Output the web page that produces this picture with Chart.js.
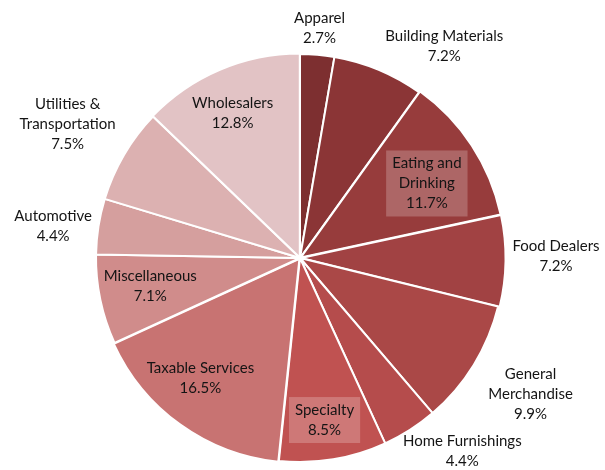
<!DOCTYPE html>
<html>
<head>
    <title>Sales Tax by Category</title>
    <script src="https://cdn.jsdelivr.net/npm/chart.js"></script>
    <style>
        body { margin: 0; background: #fff; }
        #wrap { width: 605px; height: 470px; }
    </style>
</head>
<body>
    <div id="wrap"><canvas id="myChart" width="605" height="470"></canvas></div>
    <script>
        const categories = ['Apparel', 'Building Materials', 'Eating and Drinking', 'Food Dealers',
            'General Merchandise', 'Home Furnishings', 'Specialty', 'Taxable Services',
            'Miscellaneous', 'Automotive', 'Utilities & Transportation', 'Wholesalers'];
        const shares = [2.7, 7.2, 11.7, 7.2, 9.9, 4.4, 8.5, 16.5, 7.1, 4.4, 7.5, 12.8];
        // how the label text is broken into lines
        const labelLines = [
            ['Apparel'], ['Building Materials'], ['Eating and', 'Drinking'], ['Food Dealers'],
            ['General', 'Merchandise'], ['Home Furnishings'], ['Specialty'], ['Taxable Services'],
            ['Miscellaneous'], ['Automotive'], ['Utilities &', 'Transportation'], ['Wholesalers']
        ];
        const colors = ['#7d2f30', '#8b3536', '#973c3c', '#a14243', '#aa4847', '#b54c4c',
            '#c05251', '#c87372', '#d08c8b', '#d59f9e', '#dcb1b1', '#e2c3c5'];
        const offsets = [0, 0, 4, 4, 0, 0, 0, 4, 0, 0, 0, 2];

        // label placement: fraction of radius along slice middle, plus nudge
        const labelFactor = [1.13, 1.26, 0.72, 1.25, 1.31, 1.24, 0.80, 0.77, 0.75, 1.22, 1.32, 0.78];
        const labelNudge = [[0, 0], [45, 25], [4, 6], [1, -5], [3, -4], [26, -20], [-2, 1], [-8, -7], [0, -3], [-1, 7], [0, 2], [-5, 2]];
        const boxed = [false, false, true, false, false, false, true, false, false, false, false, false];

        const pieLabels = {
            id: 'pieLabels',
            afterDatasetsDraw(chart) {
                const ctx = chart.ctx;
                const arcs = chart.getDatasetMeta(0).data;
                ctx.save();
                ctx.font = '15px Lato';
                ctx.textAlign = 'center';
                ctx.textBaseline = 'middle';
                const lh = 20;
                arcs.forEach((arc, i) => {
                    const mid = (arc.startAngle + arc.endAngle) / 2;
                    const r = arc.outerRadius * labelFactor[i];
                    const x = arc.x + Math.cos(mid) * r + labelNudge[i][0];
                    const y = arc.y + Math.sin(mid) * r + labelNudge[i][1];
                    const lines = labelLines[i].concat([shares[i].toFixed(1) + '%']);
                    const top = y - (lines.length - 1) * lh / 2;
                    if (boxed[i]) {
                        let w = 0;
                        lines.forEach(t => { w = Math.max(w, ctx.measureText(t).width); });
                        ctx.fillStyle = 'rgba(255,255,255,0.22)';
                        ctx.fillRect(x - w / 2 - 6, top - lh / 2 - 3, w + 12, lines.length * lh + 6);
                    }
                    ctx.fillStyle = '#141414';
                    lines.forEach((t, k) => ctx.fillText(t, x, top + k * lh));
                });
                ctx.restore();
            }
        };

        const ctx = document.getElementById('myChart').getContext('2d');
        const myChart = new Chart(ctx, {
            type: 'pie',
            data: {
                labels: categories,
                datasets: [{
                    data: shares,
                    backgroundColor: colors,
                    borderColor: '#ffffff',
                    borderWidth: 2,
                    offset: offsets
                }]
            },
            options: {
                responsive: false,
                animation: false,
                layout: { padding: { top: 51, bottom: 5, left: 0, right: 5 } },
                plugins: {
                    legend: { display: false },
                    tooltip: { enabled: false }
                }
            },
            plugins: [pieLabels]
        });
    </script>
</body>
</html>
